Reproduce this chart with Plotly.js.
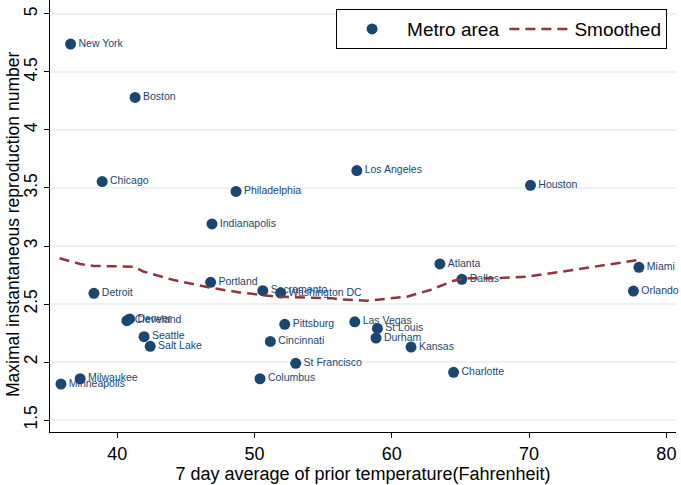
<!DOCTYPE html>
<html><head><meta charset="utf-8">
<script src="https://cdn.plot.ly/plotly-3.0.1.min.js"></script>
<style>html,body{margin:0;padding:0;background:#fff}#chart{width:681px;height:485px}</style>
</head><body><div id="chart"></div>
<script>
const cities = ["New York","Boston","Chicago","Philadelphia","Indianapolis","Los Angeles","Houston",
  "Detroit","Portland","Sacramento","Washington DC","Denver","Cleveland","Seattle","Salt Lake",
  "Minneapolis","Milwaukee","Pittsburg","Cincinnati","St Francisco","Columbus",
  "Atlanta","Dallas","Miami","Orlando","Las Vegas","St Louis","Durham","Kansas","Charlotte"];
const temperature = [36.6,41.3,38.9,48.65,46.9,57.45,70.1,
  38.3,46.8,50.6,51.9,40.9,40.7,41.95,42.4,
  35.9,37.3,52.2,51.15,53.0,50.4,
  63.5,65.1,78.0,77.6,57.3,58.95,58.85,61.4,64.5];
const rmax = [4.74,4.28,3.555,3.47,3.19,3.65,3.523,
  2.592,2.687,2.615,2.595,2.371,2.356,2.218,2.135,
  1.81,1.856,2.325,2.178,1.989,1.856,
  2.845,2.713,2.816,2.612,2.347,2.29,2.207,2.129,1.911];
const smoothX = [35.8,37.3,38.3,41.2,41.9,44.1,46.8,48.9,51.6,55.7,56.2,58.2,61.1,62.8,64.5,65.5,67.4,69.8,73.2,77.9];
const smoothY = [2.894,2.845,2.828,2.822,2.78,2.707,2.64,2.6,2.563,2.549,2.54,2.528,2.563,2.621,2.701,2.721,2.721,2.735,2.793,2.879];
const yTicks = [1.5,2,2.5,3,3.5,4,4.5,5];
const xTicks = [40,50,60,70,80];

const navy = "#1a476f", maroon = "#90353b";
const traces = [
  {x: temperature, y: rmax, text: cities, mode: "markers+text", type: "scatter", name: "Metro area",
   marker: {color: navy, size: 11}, textposition: "middle right",
   textfont: {family: "Liberation Sans, Arial, sans-serif", size: 10.5, color: navy}, cliponaxis: false},
  {x: smoothX, y: smoothY, mode: "lines", type: "scatter", name: "Smoothed",
   line: {color: maroon, width: 2.5, dash: "10px,6px"}}
];
const font = {family: "Liberation Sans, Arial, sans-serif", color: "#000"};
const layout = {
  width: 681, height: 485,
  margin: {l: 50, r: 5, t: 0, b: 53},
  paper_bgcolor: "#fff", plot_bgcolor: "#fff",
  font: font, showlegend: true,
  legend: {orientation: "h", x: 0.457, y: 0.979, xanchor: "left", yanchor: "top",
    bordercolor: "#000", borderwidth: 1, bgcolor: "#fff", itemwidth: 60,
    font: {family: font.family, size: 19, color: "#000"}},
  xaxis: {range: [35.1, 80.7], tickvals: xTicks, ticks: "outside", ticklen: 5,
    tickcolor: "#000", showline: true, linecolor: "#000", linewidth: 1, showgrid: false, zeroline: false,
    tickfont: {size: 18}, title: {text: "7 day average of prior temperature(Fahrenheit)", font: {size: 18}, standoff: 3}},
  yaxis: {range: [1.397, 5.12], tickvals: yTicks, ticktext: yTicks.map(String),
    ticks: "outside", ticklen: 5, tickcolor: "#000", tickangle: -90,
    showline: true, linecolor: "#000", linewidth: 1, showgrid: true, gridcolor: "#eaf2f3", gridwidth: 1.5, zeroline: false,
    tickfont: {size: 17.5}},
  annotations: [{text: "Maximal instantaneous reproduction number", xref: "paper", yref: "paper",
    x: 0, y: 0.479, xanchor: "center", yanchor: "middle", xshift: -37, textangle: -90, showarrow: false,
    font: {family: font.family, size: 17.5, color: "#000"}}]
};
Plotly.newPlot("chart", traces, layout, {displayModeBar: false, staticPlot: true});
</script></body></html>
